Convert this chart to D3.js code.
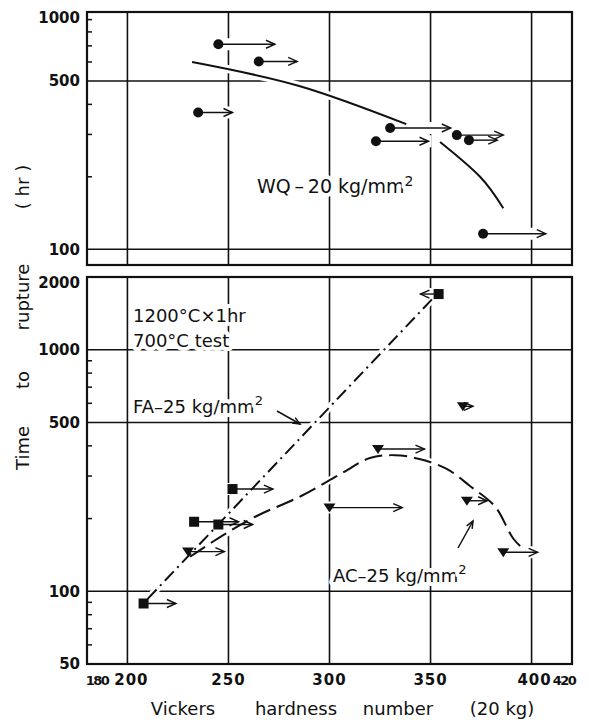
<!DOCTYPE html>
<html>
<head>
<meta charset="UTF-8">
<style>
body { margin: 0; padding: 0; background: #fff; }
svg { display: block; }
text { font-family: "DejaVu Sans", sans-serif; fill: #111; }
.tick { font-weight: bold; font-size: 15px; }
.halo { paint-order: stroke; stroke: #fff; stroke-width: 8px; stroke-linejoin: round; }
</style>
</head>
<body>
<svg id="chart" width="589" height="720"></svg>
<script src="https://d3js.org/d3.v7.min.js"></script>
<script>

// ---- data ----
const xTicks = [180, 200, 250, 300, 350, 400, 420];
const xGrid = [200, 250, 300, 350, 400];
const topGrid = [500, 100];
const topLabels = [1000, 500, 100];
const topMinor = [900, 800, 700, 600, 400, 300, 200];
const botGrid = [1000, 500, 100];
const botLabels = [2000, 1000, 500, 100, 50];
const botMinor = [900, 800, 700, 600, 400, 300, 200, 90, 80, 70, 60];

// WQ - 20 kg/mm2 : [hardness, hours, arrow end]
const wqPoints = [
  [245, 711, 273], [265, 603, 284], [235, 370, 252],
  [330, 319, 360], [323, 281, 349], [363, 298, 386],
  [369, 284, 383], [376, 116, 407]
];
const wqCurveA = [[232, 600], [285, 477], [338, 331]];
const wqCurveB = [[354.7, 279], [374.5, 200], [386, 148]];

// FA - 25 kg/mm2 (squares)
const faPoints = [
  [354, 1700, 345], [252, 265, 272], [233, 194, 255],
  [245, 189, 262], [208, 89, 224]
];
const faLine = [[210, 93], [352, 1660]];

// AC - 25 kg/mm2 (triangles)
const acPoints = [
  [230, 146, 248], [324, 388, 347], [366, 583, 371],
  [300, 222, 336], [368, 237, 378], [386, 145, 403]
];
const acCurve = [
  [231, 139], [247, 170], [263.5, 204], [286, 248], [305.5, 306],
  [320, 356], [332.5, 366], [345, 352], [358, 321], [369.5, 273],
  [382, 224], [391, 165], [397, 147]
];

// ---- layout ----
const svg = d3.select("#chart");
const L = 87, R = 572;
const x = d3.scaleLinear().domain([180, 420]).range([L, R]);
const yTop = d3.scaleLog().domain([86, 968]).range([265, 12]);
const yBot = d3.scaleLog().domain([50, 2000]).range([664, 277]);

function panel(y, grid, labels, minor) {
  const g = svg.append("g");
  const [y0, y1] = y.range();
  // grid
  g.selectAll(".vg").data(xGrid).enter().append("line")
    .attr("x1", d => x(d)).attr("x2", d => x(d))
    .attr("y1", y1).attr("y2", y0)
    .attr("stroke", "#111").attr("stroke-width", 1.6);
  g.selectAll(".hg").data(grid).enter().append("line")
    .attr("x1", L).attr("x2", R)
    .attr("y1", d => y(d)).attr("y2", d => y(d))
    .attr("stroke", "#111").attr("stroke-width", 1.6);
  // minor ticks
  g.selectAll(".mt").data(minor).enter().append("line")
    .attr("x1", L).attr("x2", L + 5)
    .attr("y1", d => y(d)).attr("y2", d => y(d))
    .attr("stroke", "#111").attr("stroke-width", 1.5);
  // frame
  g.append("rect")
    .attr("x", L).attr("y", y1).attr("width", R - L).attr("height", y0 - y1)
    .attr("fill", "none").attr("stroke", "#111").attr("stroke-width", 2.2);
  // labels
  g.selectAll(".yl").data(labels).enter().append("text")
    .attr("class", "tick")
    .attr("x", L - 7)
    .attr("y", d => Math.max(y(d), y1 + 6))
    .attr("dy", "0.36em")
    .attr("text-anchor", "end")
    .text(d => d);
  return g;
}

panel(yTop, topGrid, topLabels, topMinor);
panel(yBot, botGrid, botLabels, botMinor);

// x tick labels
svg.selectAll(".xl").data(xTicks).enter().append("text")
  .attr("class", "tick")
  .attr("x", d => x(d) + (d === 180 ? 10 : d === 420 ? -8 : d === 200 ? 4 : d === 400 ? 3 : 0))
  .attr("y", 685)
  .attr("text-anchor", "middle")
  .style("font-size", d => (d === 180 || d === 420) ? "13px" : "15px")
  .style("letter-spacing", d => (d === 180 || d === 420) ? "-1.5px" : "1px")
  .text(d => d);

// arrows
function arrow(g, x1, x2, y) {
  const dir = x2 > x1 ? 1 : -1;
  g.append("line").attr("x1", x1).attr("x2", x2).attr("y1", y).attr("y2", y)
    .attr("stroke", "#111").attr("stroke-width", 1.4);
  g.append("path")
    .attr("d", `M${x2 - dir * 9},${y - 4}L${x2},${y}L${x2 - dir * 9},${y + 4}`)
    .attr("fill", "none").attr("stroke", "#111").attr("stroke-width", 1.4);
}

function halo(g, pts, y) {
  g.selectAll(null).data(pts).enter().append("line")
    .attr("x1", d => x(d[0]) - 6).attr("x2", d => x(d[2]) + (d[2] > d[0] ? 3 : -3))
    .attr("y1", d => y(d[1])).attr("y2", d => y(d[1]))
    .attr("stroke", "#fff").attr("stroke-width", 12);
}

const line = (y, curve) => d3.line().x(d => x(d[0])).y(d => y(d[1])).curve(curve);

// ---- top panel: WQ ----
const gTop = svg.append("g");
halo(gTop, wqPoints, yTop);
[wqCurveA, wqCurveB].forEach(c => {
  gTop.append("path").attr("d", line(yTop, d3.curveNatural)(c))
    .attr("fill", "none").attr("stroke", "#fff").attr("stroke-width", 8);
});
[wqCurveA, wqCurveB].forEach(c => {
  gTop.append("path").attr("d", line(yTop, d3.curveNatural)(c))
    .attr("fill", "none").attr("stroke", "#111").attr("stroke-width", 2);
});
wqPoints.forEach(d => {
  arrow(gTop, x(d[0]), x(d[2]), yTop(d[1]));
  gTop.append("circle").attr("cx", x(d[0])).attr("cy", yTop(d[1])).attr("r", 5).attr("fill", "#111");
});
gTop.append("text").attr("class", "halo")
  .attr("x", 257).attr("y", 193).style("font-size", "19px")
  .html("WQ\u2009–\u200920 kg/mm<tspan dy='-7' font-size='14'>2</tspan>");

// ---- bottom panel ----
const gBot = svg.append("g");
halo(gBot, faPoints, yBot);
halo(gBot, acPoints, yBot);
gBot.append("path").attr("d", line(yBot, d3.curveLinear)(faLine))
  .attr("fill", "none").attr("stroke", "#fff").attr("stroke-width", 7);
gBot.append("path").attr("d", line(yBot, d3.curveCatmullRom)(acCurve))
  .attr("fill", "none").attr("stroke", "#fff").attr("stroke-width", 7);
gBot.append("path").attr("d", line(yBot, d3.curveLinear)(faLine))
  .attr("fill", "none").attr("stroke", "#111").attr("stroke-width", 2)
  .attr("stroke-dasharray", "13 5 2 5");
gBot.append("path").attr("d", line(yBot, d3.curveCatmullRom)(acCurve))
  .attr("fill", "none").attr("stroke", "#111").attr("stroke-width", 2)
  .attr("stroke-dasharray", "18 7");

faPoints.forEach(d => {
  arrow(gBot, x(d[0]), x(d[2]), yBot(d[1]));
  gBot.append("rect").attr("x", x(d[0]) - 5).attr("y", yBot(d[1]) - 5)
    .attr("width", 10).attr("height", 10).attr("fill", "#111");
});
acPoints.forEach(d => {
  arrow(gBot, x(d[0]), x(d[2]), yBot(d[1]));
  const cx = x(d[0]), cy = yBot(d[1]);
  gBot.append("path").attr("d", `M${cx - 6},${cy - 4}L${cx + 6},${cy - 4}L${cx},${cy + 5}Z`)
    .attr("fill", "#111");
});

// annotations
gBot.append("text").attr("class", "halo").attr("x", 133).attr("y", 322).style("font-size", "18px")
  .text("1200°C×1hr");
gBot.append("text").attr("class", "halo").attr("x", 133).attr("y", 347).style("font-size", "18px")
  .text("700°C test");
gBot.append("text").attr("class", "halo").attr("x", 133).attr("y", 413).style("font-size", "18px")
  .html("FA–25 kg/mm<tspan dy='-8' font-size='13'>2</tspan>");
gBot.append("text").attr("class", "halo").attr("x", 333).attr("y", 582).style("font-size", "18px")
  .html("AC–25 kg/mm<tspan dy='-8' font-size='13'>2</tspan>");

function pointer(g, x1, y1, x2, y2) {
  const a = Math.atan2(y2 - y1, x2 - x1), h = 8;
  g.append("line").attr("x1", x1).attr("y1", y1).attr("x2", x2).attr("y2", y2)
    .attr("stroke", "#111").attr("stroke-width", 1.5);
  g.append("path")
    .attr("d", `M${x2 - h * Math.cos(a - 0.4)},${y2 - h * Math.sin(a - 0.4)}L${x2},${y2}L${x2 - h * Math.cos(a + 0.4)},${y2 - h * Math.sin(a + 0.4)}`)
    .attr("fill", "none").attr("stroke", "#111").attr("stroke-width", 1.5);
}
pointer(gBot, 277, 411, 300, 424);
pointer(gBot, 458, 548, 473, 521);

// axis titles
const yTitle = [["( hr )", 187], ["rupture", 297], ["to", 380], ["Time", 448]];
yTitle.forEach(([t, c]) => {
  svg.append("text")
    .attr("transform", `translate(29,${c}) rotate(-90)`)
    .attr("text-anchor", "middle")
    .style("font-size", "18px")
    .text(t);
});
const xTitle = [["Vickers", 183], ["hardness", 296], ["number", 398], ["(20 kg)", 502]];
xTitle.forEach(([t, c]) => {
  svg.append("text")
    .attr("x", c).attr("y", 715)
    .attr("text-anchor", "middle")
    .style("font-size", "18px")
    .text(t);
});

</script>
</body>
</html>
